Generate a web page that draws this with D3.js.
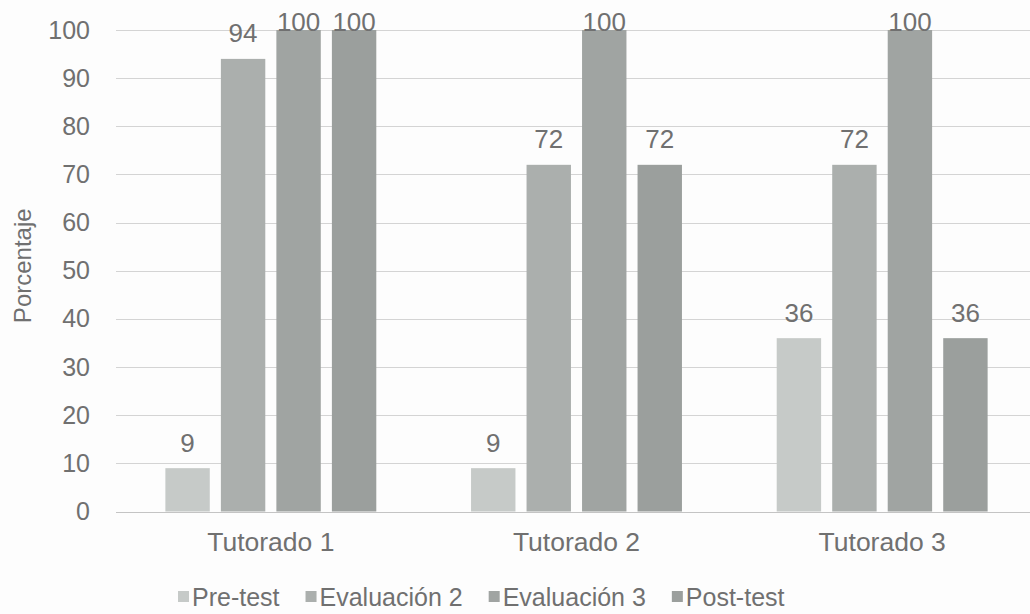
<!DOCTYPE html>
<html>
<head>
<meta charset="utf-8">
<script src="https://cdn.jsdelivr.net/npm/d3@7"></script>
<style>
  html, body { margin: 0; padding: 0; background: #fdfdfd; }
  svg { display: block; }
  text { font-family: "Liberation Sans", Arial, sans-serif; fill: #707070; }
</style>
</head>
<body>
<svg id="chart" width="1030" height="614"></svg>
<script>
// Categories, series and values
const categories = ["Tutorado 1", "Tutorado 2", "Tutorado 3"];
const series = ["Pre-test", "Evaluación 2", "Evaluación 3", "Post-test"];
const preTest = [9, 9, 36];
const evaluacion2 = [94, 72, 72];
const evaluacion3 = [100, 100, 100];
const postTest = [100, 72, 36];
const yTicks = [0, 10, 20, 30, 40, 50, 60, 70, 80, 90, 100];
const seriesColors = ["#c6cac8", "#abafad", "#a0a4a2", "#9b9f9d"];

const valuesBySeries = [preTest, evaluacion2, evaluacion3, postTest];
const rows = categories.map((c, i) => ({
  category: c,
  values: series.map((s, j) => ({ series: s, value: valuesBySeries[j][i], color: seriesColors[j] }))
}));

const svg = d3.select("#chart");
const plot = { left: 118, right: 1035, top: 30, bottom: 511.5 };

const x0 = d3.scaleBand()
  .domain(categories)
  .range([plot.left, plot.right])
  .paddingInner(0.31)
  .paddingOuter(0.155);

const x1 = d3.scaleBand()
  .domain(series)
  .range([0, x0.bandwidth()])
  .paddingInner(0.2);

const y = d3.scaleLinear().domain([0, 100]).range([plot.bottom, plot.top]);

// Horizontal gridlines
svg.append("g")
  .selectAll("line")
  .data(yTicks)
  .join("line")
  .attr("x1", plot.left - 2)
  .attr("x2", 1030)
  .attr("y1", d => Math.round(y(d)) + 0.5)
  .attr("y2", d => Math.round(y(d)) + 0.5)
  .attr("stroke", d => d === 0 ? "#c4c4c4" : "#d4d4d4")
  .attr("stroke-width", 1);

// Y axis tick labels
const yAxis = d3.axisLeft(y).tickValues(yTicks).tickSize(0).tickPadding(0);
const yg = svg.append("g").attr("transform", `translate(${plot.left - 28},0)`).call(yAxis);
yg.select(".domain").remove();
yg.selectAll("text")
  .attr("font-size", 25)
  .attr("fill", "#707070")
  .style("font-family", "'Liberation Sans', Arial, sans-serif");

// Y axis title
svg.append("text")
  .attr("transform", `translate(31,${(plot.top + plot.bottom) / 2 - 5}) rotate(-90)`)
  .attr("text-anchor", "middle")
  .attr("font-size", 24)
  .text("Porcentaje");

// Bars
const groups = svg.append("g")
  .selectAll("g")
  .data(rows)
  .join("g")
  .attr("transform", d => `translate(${x0(d.category)},0)`);

groups.selectAll("rect")
  .data(d => d.values)
  .join("rect")
  .attr("x", d => x1(d.series))
  .attr("y", d => y(d.value))
  .attr("width", x1.bandwidth())
  .attr("height", d => y(0) - y(d.value))
  .attr("fill", d => d.color);

// Value labels, kept inside the chart area at the top
groups.selectAll("text.value")
  .data(d => d.values)
  .join("text")
  .attr("class", "value")
  .attr("x", d => x1(d.series) + x1.bandwidth() / 2)
  .attr("y", d => Math.max(y(d.value) - 16.5, plot.top + 1))
  .attr("text-anchor", "middle")
  .attr("font-size", 26)
  .text(d => d.value);

// Category labels
const xAxis = d3.axisBottom(x0).tickSize(0).tickPadding(0);
const xg = svg.append("g").attr("transform", `translate(0,${plot.bottom + 20})`).call(xAxis);
xg.select(".domain").remove();
xg.selectAll("text")
  .attr("font-size", 26.5)
  .attr("fill", "#707070")
  .attr("dy", "0.75em")
  .style("font-family", "'Liberation Sans', Arial, sans-serif");

// Legend
const legend = svg.append("g").attr("transform", "translate(178,606)");
let lx = 0;
series.forEach((s, i) => {
  const g = legend.append("g").attr("transform", `translate(${lx},0)`);
  g.append("rect").attr("x", 0).attr("y", -15).attr("width", 11).attr("height", 11).attr("fill", seriesColors[i]);
  const t = g.append("text").attr("x", 14).attr("y", 0).attr("font-size", 25).text(s);
  lx += 14 + t.node().getComputedTextLength() + 26;
});
</script>
</body>
</html>
